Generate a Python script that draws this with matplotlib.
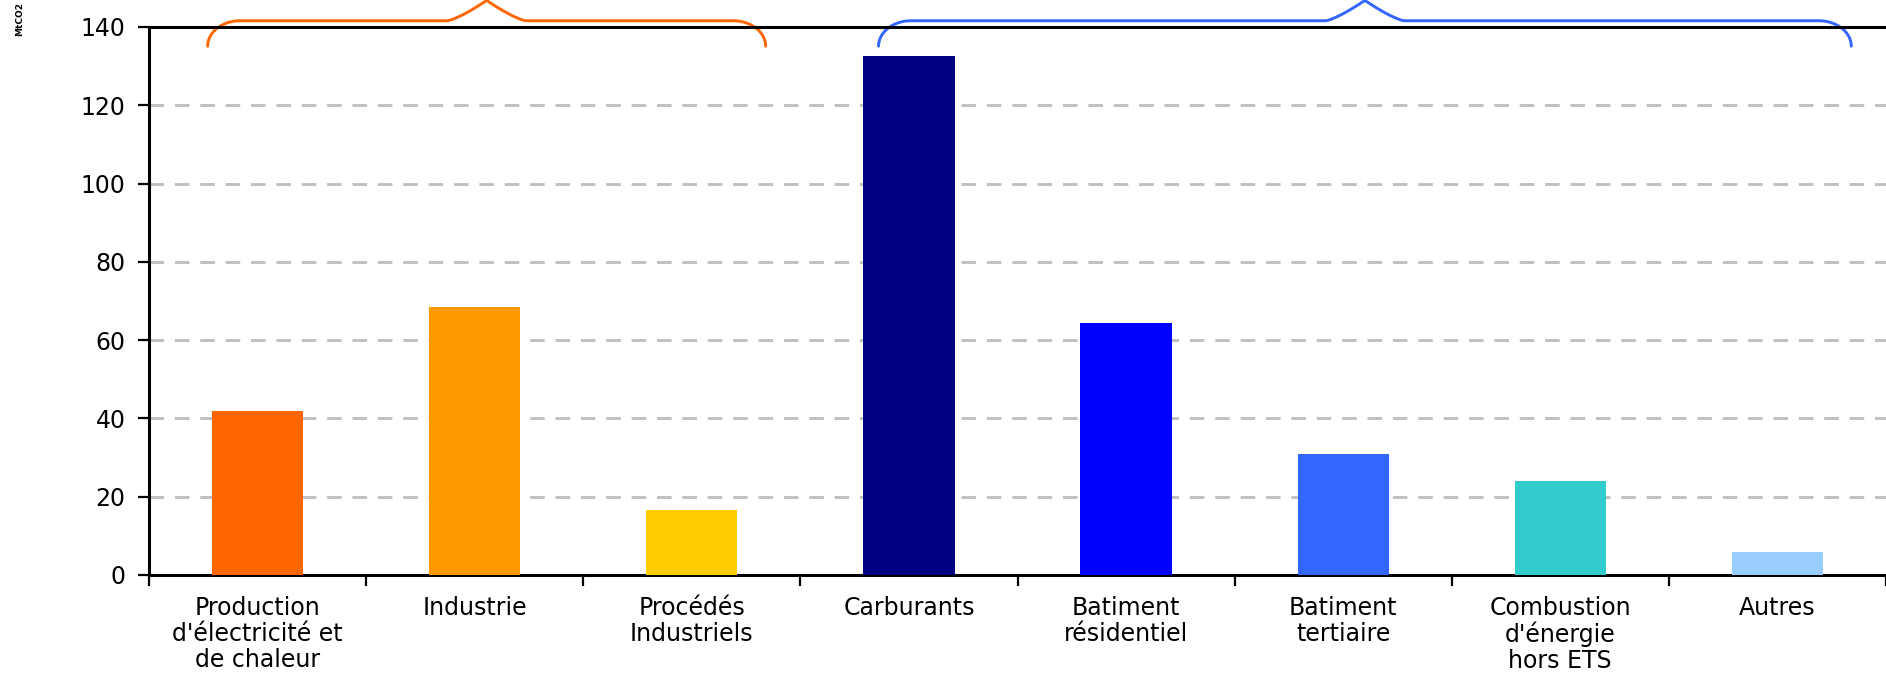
import matplotlib.pyplot as plt
import numpy as np

categories = ["Production\nd'électricité et\nde chaleur", "Industrie", "Procédés\nIndustriels",
              "Carburants", "Batiment\nrésidentiel", "Batiment\ntertiaire",
              "Combustion\nd'énergie\nhors ETS", "Autres"]
emissions = [41.8, 68.4, 16.6, 132.7, 64.4, 31.0, 23.9, 6.0]
colours = ["#FF6600", "#FF9900", "#FFCC00", "#000080", "#0000FF", "#3366FF", "#33CCCC", "#99CCFF"]


def brace(ax, x0, x1, colour, ye=135.1, yf=141.6, ypk=146.8, w=0.15, p=0.18):
    # curly bracket drawn above the top of the axes
    xm = (x0 + x1) / 2
    t = np.linspace(0, np.pi / 2, 30)
    s = np.linspace(0, 1, 30)
    lx = x0 + w * (1 - np.cos(t))
    ly = ye + (yf - ye) * np.sin(t)
    tx = xm - p + p * s
    ty = yf + (ypk - yf) * s ** 1.3
    xs = np.concatenate((lx, tx, 2 * xm - tx[::-1], 2 * xm - lx[::-1]))
    ys = np.concatenate((ly, ty, ty[::-1], ly[::-1]))
    ax.plot(xs, ys, color=colour, lw=2.1, clip_on=False, solid_capstyle='round')


plt.rcParams['font.family'] = 'DejaVu Sans'
fig = plt.figure(figsize=(18.86, 6.75), dpi=100)
ax = fig.add_axes([149 / 1886, 100 / 675, 1737 / 1886, 548 / 675])

x = np.arange(len(categories))
ax.bar(x, emissions, width=0.42, color=colours, zorder=3)

ax.set_xlim(-0.5, 7.5)
ax.set_ylim(0, 140)
ax.set_yticks(np.arange(0, 141, 20))
ax.set_xticks(x)
ax.set_xticklabels(categories, fontsize=17, linespacing=1.1)
ax.set_xticks(np.arange(-0.5, 8, 1), minor=True)
ax.tick_params(axis='x', which='major', length=0, pad=15)
ax.tick_params(axis='x', which='minor', length=8, width=1.6, direction='out')
ax.tick_params(axis='y', length=8, width=1.6, pad=9, labelsize=17)

for y in range(20, 140, 20):
    ax.axhline(y, color='#C0C0C0', lw=2.1, ls=(0, (5, 3.7)), zorder=1)

for side in ['left', 'bottom', 'top']:
    ax.spines[side].set_linewidth(2.2)
ax.spines['right'].set_visible(False)

brace(ax, -0.23, 2.34, '#FF6600')
brace(ax, 2.86, 7.34, '#3366FF')

fig.text(20 / 1886, 1 - 19 / 675, 'MtCO2', rotation=90, fontsize=6.5, fontweight='bold',
         ha='center', va='center')

fig.savefig('out.png')
